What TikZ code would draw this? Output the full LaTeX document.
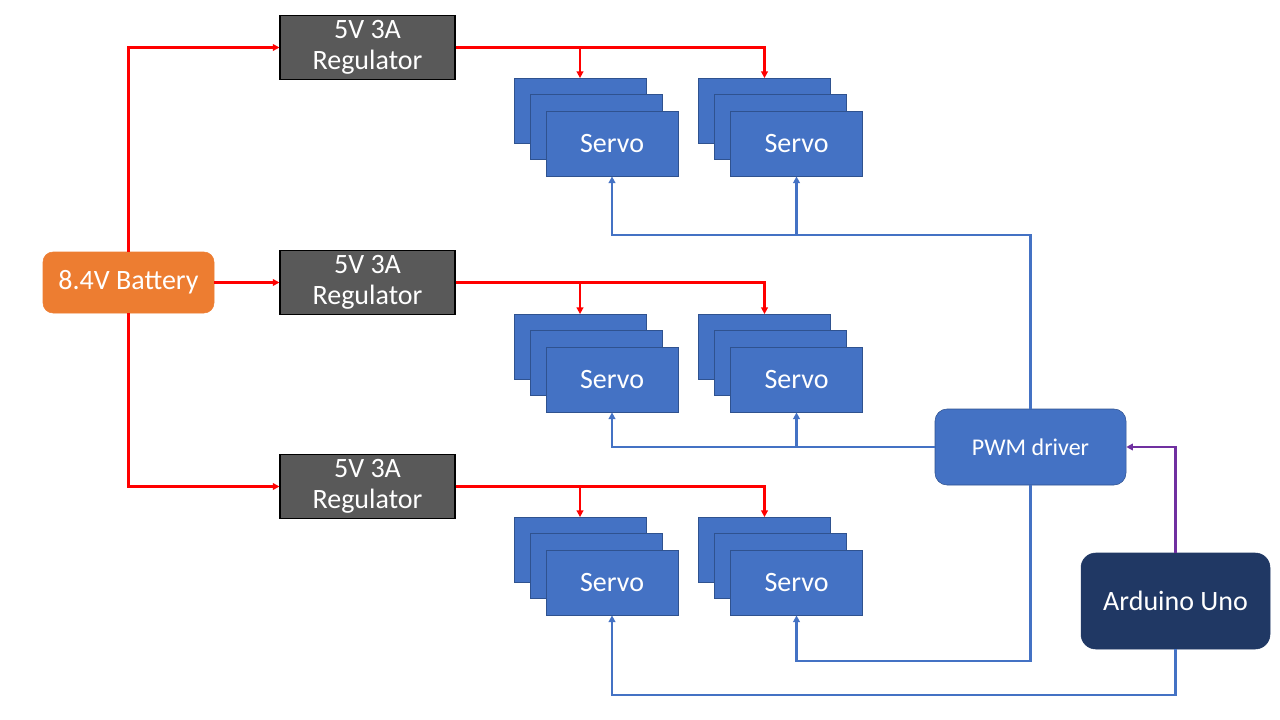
\documentclass[tikz,border=0pt]{standalone}
\usepackage{fontspec}
\setmainfont{Carlito}
\usepackage{tikz}
\usetikzlibrary{arrows.meta}

\definecolor{batt}{HTML}{ED7D31}
\definecolor{reg}{HTML}{595959}
\definecolor{srv}{HTML}{4472C4}
\definecolor{srvline}{HTML}{2F528F}
\definecolor{uno}{HTML}{203864}
\definecolor{pwr}{HTML}{FF0000}
\definecolor{ctl}{HTML}{7030A0}

\begin{document}
\begin{tikzpicture}[x=0.75pt,y=-0.75pt,
	box/.style={draw,text=white,align=center,font=\fontsize{21}{23}\selectfont,inner sep=0pt},
	battery/.style={box,fill=batt,draw=batt,rounded corners=7.5pt,minimum width=128.25pt,minimum height=45.75pt},
	regulator/.style={box,fill=reg,draw=black,line width=0.8pt,minimum width=131.25pt,minimum height=48pt},
	servo/.style={box,fill=srv,draw=srvline,line width=0.6pt,minimum width=99pt,minimum height=48.75pt},
	driver/.style={box,fill=srv,draw=srvline,rounded corners=9pt,minimum width=143.25pt,minimum height=57pt,font=\fontsize{18}{21}\selectfont},
	arduino/.style={box,fill=uno,draw=uno,rounded corners=11pt,minimum width=141.75pt,minimum height=72pt},
	tip/.style={-{Triangle[length=5pt,width=5pt]}},
	red line/.style={draw=pwr,line width=1.6pt,tip},
	blue line/.style={draw=srv,line width=1.6pt,tip},
	purple line/.style={draw=ctl,line width=1.6pt,tip}]
	\useasboundingbox (0,0) rectangle (1280,720);
	\node[battery] (B) at (128.5,282.5) {8.4V Battery};
	\node[regulator] (R1) at (367.5,47.5) {5V 3A\\Regulator};
	\node[regulator] (R2) at (367.5,282.5) {5V 3A\\Regulator};
	\node[regulator] (R3) at (367.5,486.5) {5V 3A\\Regulator};
	\node[servo] (S1a) at (580,111) {};
	\node[servo] (S1b) at (596,127) {};
	\node[servo] (S1) at (612,143.5) {Servo};
	\node[servo] (S2a) at (764.5,111) {};
	\node[servo] (S2b) at (780.5,127) {};
	\node[servo] (S2) at (796.5,143.5) {Servo};
	\node[servo] (S3a) at (580,347) {};
	\node[servo] (S3b) at (596,363) {};
	\node[servo] (S3) at (612,379.5) {Servo};
	\node[servo] (S4a) at (764.5,347) {};
	\node[servo] (S4b) at (780.5,363) {};
	\node[servo] (S4) at (796.5,379.5) {Servo};
	\node[servo] (S5a) at (580,550) {};
	\node[servo] (S5b) at (596,566) {};
	\node[servo] (S5) at (612,582.5) {Servo};
	\node[servo] (S6a) at (764.5,550) {};
	\node[servo] (S6b) at (780.5,566) {};
	\node[servo] (S6) at (796.5,582.5) {Servo};
	\node[driver] (P) at (1030.5,447) {PWM driver};
	\node[arduino] (A) at (1175.5,601) {Arduino Uno};
	\coordinate (J1) at (1030.5,235);
	\coordinate (J3) at (1030.5,661);
	\coordinate (J4) at (1175.5,695);
	% power
	\draw[red line] (B.north) |- (R1.west);
	\draw[red line] (B.east) -- (R2.west);
	\draw[red line] (B.south) |- (R3.west);
	\draw[red line] (R1.east) -| (S1a.north);
	\draw[red line] (R1.east) -| (S2a.north);
	\draw[red line] (R2.east) -| (S3a.north);
	\draw[red line] (R2.east) -| (S4a.north);
	\draw[red line] (R3.east) -| (S5a.north);
	\draw[red line] (R3.east) -| (S6a.north);
	% signals
	\draw[blue line] (P.north) -- (J1) -| (S1.south);
	\draw[blue line] (J1) -| (S2.south);
	\draw[blue line] (P.west) -| (S3.south);
	\draw[blue line] (P.west) -| (S4.south);
	\draw[blue line] (P.south) -- (J3) -| (S6.south);
	\draw[blue line] (A.south) -- (J4) -| (S5.south);
	\draw[purple line] (A.north) |- (P.east);
\end{tikzpicture}
\end{document}
